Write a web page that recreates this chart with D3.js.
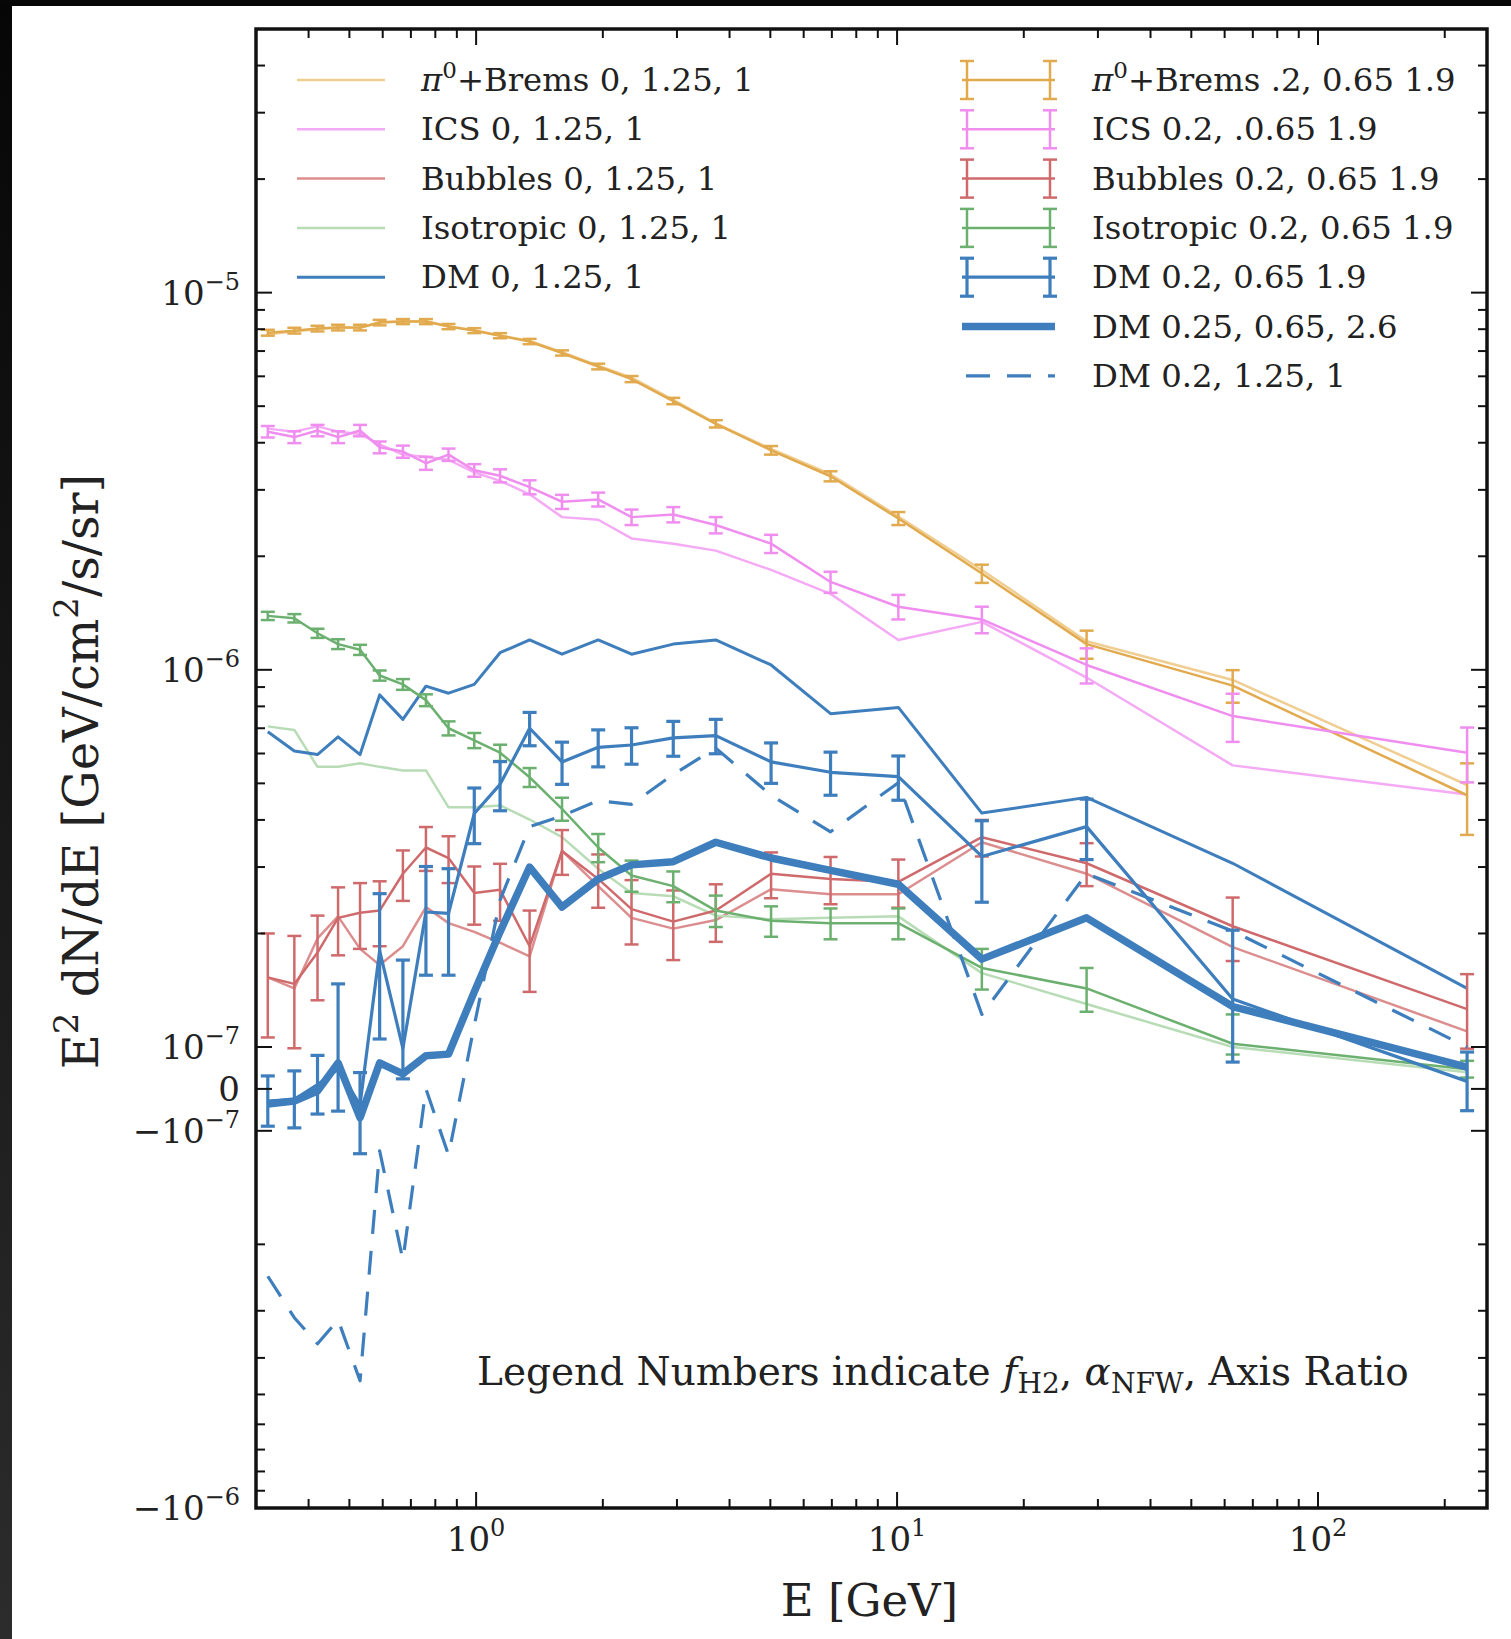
<!DOCTYPE html>
<html><head><meta charset="utf-8">
<script src="https://cdn.jsdelivr.net/npm/d3@7"></script>
<style>
html,body{margin:0;padding:0;background:#fff;}
svg{display:block;}
text{font-family:"DejaVu Serif","Liberation Serif",serif;fill:#222;}
</style></head>
<body>
<svg id="chart" width="1511" height="1639"></svg>
<script>
// ---------------- DATA ----------------
const energies = [0.32, 0.37, 0.42, 0.47, 0.53, 0.59, 0.67, 0.76, 0.86, 0.99, 1.14, 1.34, 1.60, 1.95, 2.34, 2.94, 3.71, 5.02, 6.95, 10.07, 15.9, 28.2, 62.7, 226];

// f_H2=0, alpha=1.25, axis ratio 1 (plain lines)
const pi0Line = [7.75e-6, 7.9e-6, 8.0e-6, 8.1e-6, 8.05e-6, 8.35e-6, 8.4e-6, 8.4e-6, 8.15e-6, 7.95e-6, 7.7e-6, 7.45e-6, 6.95e-6, 6.4e-6, 5.95e-6, 5.2e-6, 4.5e-6, 3.85e-6, 3.3e-6, 2.55e-6, 1.84e-6, 1.19e-6, 9.4e-7, 4.95e-7];
const icsLine = [4.36e-6, 4.28e-6, 4.42e-6, 4.28e-6, 4.22e-6, 3.96e-6, 3.72e-6, 3.67e-6, 3.60e-6, 3.34e-6, 3.17e-6, 2.92e-6, 2.54e-6, 2.50e-6, 2.23e-6, 2.16e-6, 2.07e-6, 1.84e-6, 1.59e-6, 1.20e-6, 1.34e-6, 9.54e-7, 5.58e-7, 4.67e-7];
const bubblesLine = [1.53e-7, 1.43e-7, 1.94e-7, 2.22e-7, 1.82e-7, 1.65e-7, 1.85e-7, 2.35e-7, 2.13e-7, 2.02e-7, 1.89e-7, 1.74e-7, 3.31e-7, 2.67e-7, 2.20e-7, 2.06e-7, 2.17e-7, 2.62e-7, 2.54e-7, 2.54e-7, 3.49e-7, 2.88e-7, 1.84e-7, 1.10e-7];
const isoLine = [7.08e-7, 6.93e-7, 5.53e-7, 5.53e-7, 5.65e-7, 5.53e-7, 5.41e-7, 5.41e-7, 4.32e-7, 4.32e-7, 4.37e-7, 4.01e-7, 3.6e-7, 2.97e-7, 2.56e-7, 2.51e-7, 2.23e-7, 2.18e-7, 2.2e-7, 2.22e-7, 1.57e-7, 1.30e-7, 1.0e-7, 0.40e-7];
const dmLine = [6.85e-7, 6.09e-7, 5.96e-7, 6.64e-7, 5.96e-7, 8.58e-7, 7.39e-7, 9.05e-7, 8.67e-7, 9.15e-7, 1.11e-6, 1.20e-6, 1.10e-6, 1.20e-6, 1.10e-6, 1.17e-6, 1.20e-6, 1.03e-6, 7.65e-7, 7.95e-7, 4.17e-7, 4.59e-7, 3.07e-7, 1.43e-7];

// f_H2=0.2, alpha=0.65, axis ratio 1.9 (with error bars)
const pi0Err = [7.83e-6, 7.93e-6, 8.03e-6, 8.08e-6, 8.08e-6, 8.33e-6, 8.38e-6, 8.38e-6, 8.13e-6, 7.93e-6, 7.69e-6, 7.42e-6, 6.92e-6, 6.37e-6, 5.90e-6, 5.16e-6, 4.49e-6, 3.82e-6, 3.26e-6, 2.52e-6, 1.80e-6, 1.17e-6, 9.08e-7, 4.65e-7];
const pi0Sigma = [1.4e-7, 1.4e-7, 1.4e-7, 1.4e-7, 1.4e-7, 1.4e-7, 1.3e-7, 1.3e-7, 1.3e-7, 1.2e-7, 1.2e-7, 1.2e-7, 1.1e-7, 1.1e-7, 1.1e-7, 1.0e-7, 1.0e-7, 1.0e-7, 1.0e-7, 1.0e-7, 1.0e-7, 1.0e-7, 0.9e-7, 1.0e-7];
const icsErr = [4.28e-6, 4.14e-6, 4.31e-6, 4.14e-6, 4.31e-6, 3.89e-6, 3.79e-6, 3.53e-6, 3.72e-6, 3.38e-6, 3.27e-6, 3.05e-6, 2.79e-6, 2.83e-6, 2.54e-6, 2.58e-6, 2.42e-6, 2.16e-6, 1.71e-6, 1.47e-6, 1.36e-6, 1.03e-6, 7.54e-7, 6.03e-7];
const icsSigma = [1.5e-7, 1.5e-7, 1.5e-7, 1.5e-7, 1.5e-7, 1.4e-7, 1.4e-7, 1.4e-7, 1.4e-7, 1.3e-7, 1.3e-7, 1.3e-7, 1.2e-7, 1.2e-7, 1.2e-7, 1.2e-7, 1.2e-7, 1.2e-7, 1.1e-7, 1.1e-7, 1.1e-7, 1.1e-7, 1.1e-7, 1.0e-7];
const bubblesErr = [1.53e-7, 1.47e-7, 1.78e-7, 2.20e-7, 2.27e-7, 2.30e-7, 2.88e-7, 3.38e-7, 3.17e-7, 2.56e-7, 2.61e-7, 1.85e-7, 3.31e-7, 2.79e-7, 2.32e-7, 2.15e-7, 2.30e-7, 2.88e-7, 2.79e-7, 2.74e-7, 3.60e-7, 3.07e-7, 2.09e-7, 1.26e-7];
const bubblesSigma = [0.47e-7, 0.5e-7, 0.45e-7, 0.45e-7, 0.45e-7, 0.45e-7, 0.44e-7, 0.45e-7, 0.45e-7, 0.45e-7, 0.45e-7, 0.45e-7, 0.45e-7, 0.45e-7, 0.45e-7, 0.45e-7, 0.4e-7, 0.4e-7, 0.4e-7, 0.4e-7, 0.4e-7, 0.4e-7, 0.4e-7, 0.3e-7];
const isoErr = [1.39e-6, 1.37e-6, 1.25e-6, 1.17e-6, 1.13e-6, 9.66e-7, 9.15e-7, 8.31e-7, 7.0e-7, 6.5e-7, 6.03e-7, 5.19e-7, 4.28e-7, 3.38e-7, 2.85e-7, 2.67e-7, 2.30e-7, 2.16e-7, 2.13e-7, 2.13e-7, 1.62e-7, 1.43e-7, 1.02e-7, 0.47e-7];
const isoSigma = [0.35e-7, 0.35e-7, 0.35e-7, 0.35e-7, 0.35e-7, 0.3e-7, 0.3e-7, 0.3e-7, 0.3e-7, 0.3e-7, 0.3e-7, 0.3e-7, 0.3e-7, 0.29e-7, 0.27e-7, 0.25e-7, 0.22e-7, 0.2e-7, 0.2e-7, 0.2e-7, 0.2e-7, 0.19e-7, 0.2e-7, 0.2e-7];
const dmErr = [-0.29e-7, -0.25e-7, 0.1e-7, 0.47e-7, -0.38e-7, 1.8e-7, 0.97e-7, 2.28e-7, 2.26e-7, 4.16e-7, 4.97e-7, 7.0e-7, 5.7e-7, 6.23e-7, 6.32e-7, 6.6e-7, 6.69e-7, 5.70e-7, 5.35e-7, 5.21e-7, 3.2e-7, 3.84e-7, 1.34e-7, 0.18e-7];
const dmSigma = [0.6e-7, 0.68e-7, 0.7e-7, 1.0e-7, 0.77e-7, 0.75e-7, 0.73e-7, 0.73e-7, 0.71e-7, 0.7e-7, 0.74e-7, 0.71e-7, 0.73e-7, 0.7e-7, 0.7e-7, 0.7e-7, 0.7e-7, 0.7e-7, 0.7e-7, 0.7e-7, 0.78e-7, 0.7e-7, 0.7e-7, 0.7e-7];

// f_H2=0.25, alpha=0.65, axis ratio 2.6 (thick) and f_H2=0.2, alpha=1.25, axis ratio 1 (dashed)
const dmThick = [-0.36e-7, -0.29e-7, -0.05e-7, 0.62e-7, -0.69e-7, 0.62e-7, 0.36e-7, 0.79e-7, 0.83e-7, 1.40e-7, 2.02e-7, 3.0e-7, 2.35e-7, 2.79e-7, 3.04e-7, 3.10e-7, 3.49e-7, 3.17e-7, 2.94e-7, 2.70e-7, 1.71e-7, 2.20e-7, 1.28e-7, 0.52e-7];
const dmDashed = [-2.43e-7, -3.13e-7, -3.67e-7, -3.17e-7, -4.6e-7, -1.13e-7, -2.2e-7, 0, -1.16e-7, 1.14e-7, 2.45e-7, 3.84e-7, 4.1e-7, 4.5e-7, 4.4e-7, 5.28e-7, 6.2e-7, 4.65e-7, 3.72e-7, 5.02e-7, 1.22e-7, 2.88e-7, 2.03e-7, 1.0e-7];

// axis ticks
const xMajorTicks = [1, 10, 100];
const xMajorExp = ["0", "1", "2"];
const yMajorTicks = [-1e-6, -1e-7, 0, 1e-7, 1e-6, 1e-5];
const yMajorLabels = [["−10", "−6"], ["−10", "−7"], ["0", ""], ["10", "−7"], ["10", "−6"], ["10", "−5"]];

const legendLeftLabels = ["Brems 0, 1.25, 1", "ICS 0, 1.25, 1", "Bubbles 0, 1.25, 1", "Isotropic 0, 1.25, 1", "DM 0, 1.25, 1"];
const legendRightLabels = ["Brems .2, 0.65 1.9", "ICS 0.2, .0.65 1.9", "Bubbles 0.2, 0.65 1.9", "Isotropic 0.2, 0.65 1.9", "DM 0.2, 0.65 1.9", "DM 0.25, 0.65, 2.6", "DM 0.2, 1.25, 1"];

// ---------------- LAYOUT ----------------
const W = 1511, H = 1639;
const L = 256, R = 1487, T = 29, B = 1508;
const col = {
  pi0: "#e2aa4e", pi0L: "#f0cd90",
  ics: "#f08ef0", icsL: "#f5aaf5",
  bub: "#cf6a6c", bubL: "#dc8d8e",
  iso: "#6cb070", isoL: "#b8dcb6",
  dm: "#3e7ebd"
};

const svg = d3.select("#chart");

// screenshot frame
const defs = svg.append("defs");
const g1 = defs.append("linearGradient").attr("id", "lstrip").attr("x1", 0).attr("y1", 0).attr("x2", 0).attr("y2", 1);
g1.append("stop").attr("offset", "0%").attr("stop-color", "#060606");
g1.append("stop").attr("offset", "100%").attr("stop-color", "#2c2c2c");
svg.append("rect").attr("x", 0).attr("y", 0).attr("width", W).attr("height", H).attr("fill", "#fff");
svg.append("rect").attr("x", 0).attr("y", 0).attr("width", 12).attr("height", H).attr("fill", "url(#lstrip)");
svg.append("rect").attr("x", 0).attr("y", 0).attr("width", W).attr("height", 6).attr("fill", "#070707");

// scales
const x = d3.scaleLog().domain([0.3, 252]).range([L, R]);
const linthresh = 1e-7, linscale = 0.1 / 0.9;
function symT(v) {
  const a = Math.abs(v), s = Math.sign(v);
  if (a <= linthresh) return v / linthresh * linscale;
  return s * (linscale + Math.log10(a / linthresh));
}
const yT = d3.scaleLinear().domain([symT(-1e-6), symT(5e-5)]).range([B, T]);
const y = v => yT(symT(v));

const clipId = "plotclip";
defs.append("clipPath").attr("id", clipId).append("rect").attr("x", L).attr("y", T).attr("width", R - L).attr("height", B - T);
const plot = svg.append("g").attr("clip-path", `url(#${clipId})`);

const line = d3.line().x((d, i) => x(energies[i])).y(d => y(d));

function drawLine(vals, color, width, dash) {
  const p = plot.append("path").datum(vals).attr("d", line)
    .attr("fill", "none").attr("stroke", color).attr("stroke-width", width)
    .attr("stroke-linejoin", "round");
  if (dash) p.attr("stroke-dasharray", dash);
}
function drawErr(vals, sig, color, width) {
  drawLine(vals, color, width);
  const cap = 7;
  const g = plot.append("g").attr("stroke", color).attr("stroke-width", width).attr("fill", "none");
  vals.forEach((v, i) => {
    const xi = x(energies[i]);
    const y1 = y(v + sig[i]), y0 = y(v - sig[i]);
    g.append("line").attr("x1", xi).attr("x2", xi).attr("y1", y1).attr("y2", y0);
    g.append("line").attr("x1", xi - cap).attr("x2", xi + cap).attr("y1", y1).attr("y2", y1);
    g.append("line").attr("x1", xi - cap).attr("x2", xi + cap).attr("y1", y0).attr("y2", y0);
  });
}

// plain lines
drawLine(pi0Line, col.pi0L, 2.5);
drawLine(icsLine, col.icsL, 2.5);
drawLine(bubblesLine, col.bubL, 2.5);
drawLine(isoLine, col.isoL, 2.5);
drawLine(dmLine, col.dm, 3);
// errorbar series
drawErr(pi0Err, pi0Sigma, col.pi0, 2.5);
drawErr(icsErr, icsSigma, col.ics, 2.5);
drawErr(bubblesErr, bubblesSigma, col.bub, 2.5);
drawErr(isoErr, isoSigma, col.iso, 2.5);
drawErr(dmErr, dmSigma, col.dm, 3.2);
drawLine(dmThick, col.dm, 7.5);
drawLine(dmDashed, col.dm, 3.2, "24,17");

// ---------------- AXES ----------------
const axes = svg.append("g").attr("stroke", "#111");
const majLen = 16, minLen = 9, tw = 2;
const xMinor = [];
[0.1, 1, 10, 100].forEach(d => { for (let k = 2; k <= 9; k++) { const v = k * d; if (v > 0.3 && v < 252) xMinor.push(v); } });
xMajorTicks.forEach(v => {
  axes.append("line").attr("x1", x(v)).attr("x2", x(v)).attr("y1", B).attr("y2", B - majLen).attr("stroke-width", tw);
  axes.append("line").attr("x1", x(v)).attr("x2", x(v)).attr("y1", T).attr("y2", T + majLen).attr("stroke-width", tw);
});
xMinor.forEach(v => {
  axes.append("line").attr("x1", x(v)).attr("x2", x(v)).attr("y1", B).attr("y2", B - minLen).attr("stroke-width", tw);
  axes.append("line").attr("x1", x(v)).attr("x2", x(v)).attr("y1", T).attr("y2", T + minLen).attr("stroke-width", tw);
});
const yMinor = [];
[1e-7, 1e-6, 1e-5].forEach(d => { for (let k = 2; k <= 9; k++) { const v = k * d; if (v < 5e-5) yMinor.push(v); } });
[1e-7].forEach(d => { for (let k = 2; k <= 9; k++) yMinor.push(-k * d); });
yMajorTicks.forEach(v => {
  axes.append("line").attr("x1", L).attr("x2", L + majLen).attr("y1", y(v)).attr("y2", y(v)).attr("stroke-width", tw);
  axes.append("line").attr("x1", R).attr("x2", R - majLen).attr("y1", y(v)).attr("y2", y(v)).attr("stroke-width", tw);
});
yMinor.forEach(v => {
  axes.append("line").attr("x1", L).attr("x2", L + minLen).attr("y1", y(v)).attr("y2", y(v)).attr("stroke-width", tw);
  axes.append("line").attr("x1", R).attr("x2", R - minLen).attr("y1", y(v)).attr("y2", y(v)).attr("stroke-width", tw);
});
svg.append("rect").attr("x", L).attr("y", T).attr("width", R - L).attr("height", B - T)
  .attr("fill", "none").attr("stroke", "#111").attr("stroke-width", 3.5);

// tick labels
const tickFs = 34, supFs = 24;
xMajorTicks.forEach((v, i) => {
  const t = svg.append("text").attr("x", x(v)).attr("y", B + 43).attr("text-anchor", "middle").attr("font-size", tickFs);
  t.append("tspan").text("10");
  t.append("tspan").attr("font-size", supFs).attr("dy", -15).text(xMajorExp[i]);
});
yMajorTicks.forEach((v, i) => {
  const t = svg.append("text").attr("x", L - 16).attr("y", y(v) + 12).attr("text-anchor", "end").attr("font-size", tickFs);
  t.append("tspan").text(yMajorLabels[i][0]);
  if (yMajorLabels[i][1]) t.append("tspan").attr("font-size", supFs).attr("dy", -15).text(yMajorLabels[i][1]);
});

// axis labels
const xl = svg.append("text").attr("x", (L + R) / 2 - 2).attr("y", 1616).attr("text-anchor", "middle").attr("font-size", 45);
xl.text("E [GeV]");
const yl = svg.append("text").attr("transform", `translate(98,${(T + B) / 2 + 3}) rotate(-90)`).attr("text-anchor", "middle").attr("font-size", 48);
yl.append("tspan").text("E");
yl.append("tspan").attr("font-size", 34).attr("dy", -20).text("2");
yl.append("tspan").attr("dy", 20).text(" dN/dE [GeV/cm");
yl.append("tspan").attr("font-size", 34).attr("dy", -20).text("2");
yl.append("tspan").attr("dy", 20).text("/s/sr]");

// annotation
const an = svg.append("text").attr("x", 477).attr("y", 1385).attr("font-size", 39);
an.append("tspan").text("Legend Numbers indicate ");
an.append("tspan").attr("font-style", "italic").text("f");
an.append("tspan").attr("font-size", 28).attr("dy", 8).text("H2");
an.append("tspan").attr("dy", -8).text(", ");
an.append("tspan").attr("font-style", "italic").text("α");
an.append("tspan").attr("font-size", 28).attr("dy", 8).text("NFW");
an.append("tspan").attr("dy", -8).text(", Axis Ratio");

// ---------------- LEGEND ----------------
const legFs = 32.3, rowH = 49.3, row0 = 80;
const leftColors = [col.pi0L, col.icsL, col.bubL, col.isoL, col.dm];
legendLeftLabels.forEach((lab, i) => {
  const yy = row0 + i * rowH;
  svg.append("line").attr("x1", 297).attr("x2", 385).attr("y1", yy).attr("y2", yy)
    .attr("stroke", leftColors[i]).attr("stroke-width", i === 4 ? 3 : 2.5);
  const t = svg.append("text").attr("x", 421).attr("y", yy + 11).attr("font-size", legFs);
  if (i === 0) {
    t.append("tspan").attr("font-style", "italic").text("π");
    t.append("tspan").attr("font-size", 23).attr("dy", -13).text("0");
    t.append("tspan").attr("dy", 13).text("+" + lab);
  } else t.text(lab);
});
const rightColors = [col.pi0, col.ics, col.bub, col.iso, col.dm, col.dm, col.dm];
legendRightLabels.forEach((lab, i) => {
  const yy = row0 + i * rowH;
  const c = rightColors[i];
  const g = svg.append("g").attr("stroke", c).attr("fill", "none");
  if (i < 5) {
    const w = i === 4 ? 3.2 : 2.5;
    g.attr("stroke-width", w);
    g.append("line").attr("x1", 962).attr("x2", 1055).attr("y1", yy).attr("y2", yy);
    [967, 1050].forEach(xx => {
      g.append("line").attr("x1", xx).attr("x2", xx).attr("y1", yy - 19).attr("y2", yy + 19);
      g.append("line").attr("x1", xx - 7).attr("x2", xx + 7).attr("y1", yy - 19).attr("y2", yy - 19);
      g.append("line").attr("x1", xx - 7).attr("x2", xx + 7).attr("y1", yy + 19).attr("y2", yy + 19);
    });
  } else if (i === 5) {
    g.append("line").attr("x1", 962).attr("x2", 1055).attr("y1", yy).attr("y2", yy).attr("stroke-width", 7.5);
  } else {
    g.append("line").attr("x1", 966).attr("x2", 1055).attr("y1", yy).attr("y2", yy).attr("stroke-width", 3.2).attr("stroke-dasharray", "24,17");
  }
  const t = svg.append("text").attr("x", 1092).attr("y", yy + 11).attr("font-size", legFs);
  if (i === 0) {
    t.append("tspan").attr("font-style", "italic").text("π");
    t.append("tspan").attr("font-size", 23).attr("dy", -13).text("0");
    t.append("tspan").attr("dy", 13).text("+" + lab);
  } else t.text(lab);
});
</script>
</body></html>
